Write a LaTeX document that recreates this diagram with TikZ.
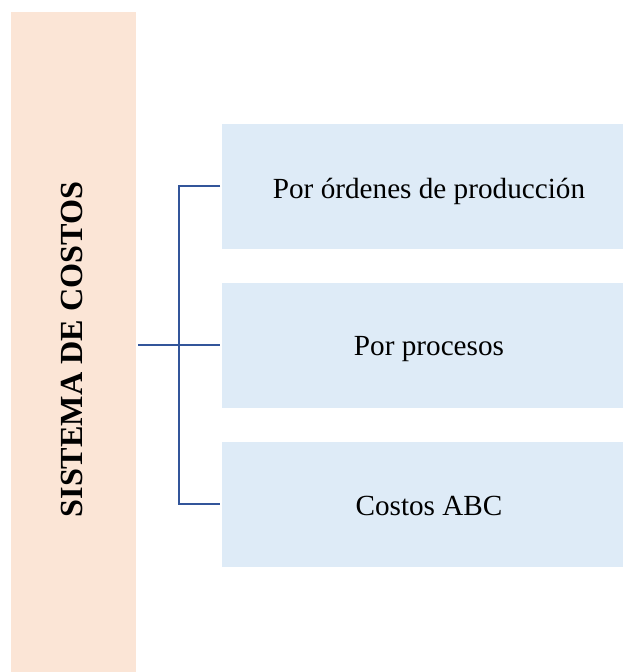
\documentclass[tikz,border=0pt]{standalone}
\usepackage{fontspec}
\setmainfont{Liberation Serif}
\definecolor{peach}{HTML}{FBE5D6}
\definecolor{paleblue}{HTML}{DEEBF7}
\definecolor{linkblue}{RGB}{50,85,154}
\begin{document}
\begin{tikzpicture}[x=1pt,y=-1pt,
  itembox/.style={fill=paleblue,draw=none},
  itemtext/.style={font=\fontsize{29.2}{34}\selectfont,anchor=base,inner sep=0pt},
  link/.style={draw=linkblue,line width=2.8pt}]
\useasboundingbox (0,0) rectangle (623,672);
\fill[peach] (11,12) rectangle (136,672);
\node[rotate=90,font=\fontsize{32.2}{38}\selectfont\bfseries,inner sep=0pt] (title) at (72,349.5) {SISTEMA DE COSTOS};
\fill[itembox] (222,124) rectangle (623,249);
\fill[itembox] (222,283) rectangle (623,408);
\fill[itembox] (222,442) rectangle (623,567);
\node[itemtext] (b1) at (429,198) {Por órdenes de producción};
\node[itemtext] (b2) at (429,355) {Por procesos};
\node[itemtext] (b3) at (429,515) {Costos ABC};
\coordinate (root) at (138,345);
\coordinate (trunk) at (179,345);
\coordinate (e1) at (220,186);
\coordinate (e2) at (220,345);
\coordinate (e3) at (220,504);
\draw[link] (root) -- (e2);
\draw[link] (e1) -| (trunk) |- (e3);
\end{tikzpicture}
\end{document}
